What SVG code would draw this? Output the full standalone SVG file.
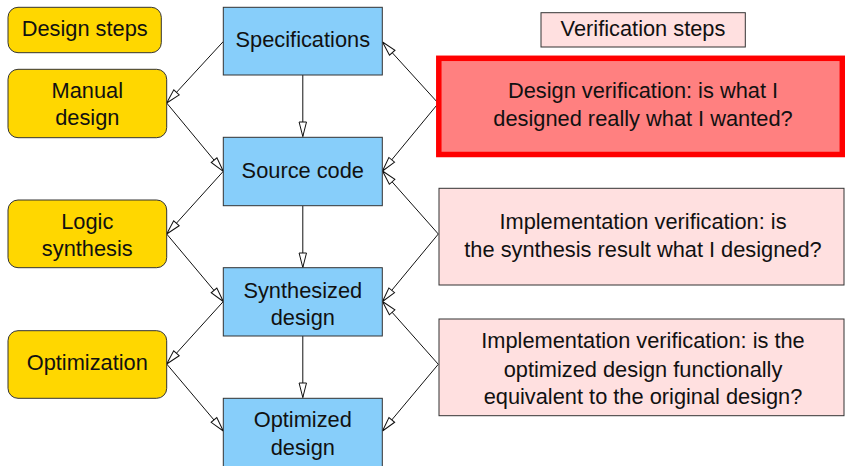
<svg xmlns="http://www.w3.org/2000/svg" width="845" height="466" viewBox="0 0 845 466">
<style>
  .t { font-family: "Liberation Sans", Arial, sans-serif; font-size: 21.8px; fill: #111; text-anchor: middle; }
  .yel { fill: #FFD700; stroke: #333; stroke-width: 1; }
  .blue { fill: #87CEFA; stroke: #333; stroke-width: 1; }
  .pink { fill: #FFE0E0; stroke: #333; stroke-width: 1; }
  .red { fill: #FF8080; stroke: #FF0000; stroke-width: 5.5; }
  .c { stroke: #111; stroke-width: 1; fill: none; marker-end: url(#oa); }
</style>
<defs>
  <marker id="oa" markerUnits="userSpaceOnUse" markerWidth="16" markerHeight="10" refX="14.5" refY="4" orient="auto" overflow="visible">
    <path d="M0,0.3 L14.5,4 L0,7.7 Z" fill="#fff" stroke="#111" stroke-width="1"/>
  </marker>
</defs>
<rect width="845" height="466" fill="#fff"/>
<g id="connectors">
  <line class="c" x1="223.3" y1="41.5" x2="166.7" y2="103"/>
  <line class="c" x1="166.7" y1="103" x2="223.3" y2="171.3"/>
  <line class="c" x1="223.3" y1="171.3" x2="166.7" y2="234"/>
  <line class="c" x1="166.7" y1="234" x2="223.3" y2="301.5"/>
  <line class="c" x1="223.3" y1="301.5" x2="166.7" y2="364"/>
  <line class="c" x1="166.7" y1="364" x2="223.3" y2="431"/>
  <line class="c" x1="302.8" y1="75" x2="302.8" y2="136.5"/>
  <line class="c" x1="302.8" y1="206" x2="302.8" y2="267.5"/>
  <line class="c" x1="302.8" y1="336" x2="302.8" y2="397.5"/>
  <line class="c" x1="438.3" y1="103.3" x2="382.5" y2="42"/>
  <line class="c" x1="438.3" y1="103.3" x2="382.5" y2="171"/>
  <line class="c" x1="438.3" y1="234" x2="382.5" y2="171"/>
  <line class="c" x1="438.3" y1="234" x2="382.5" y2="301.5"/>
  <line class="c" x1="438.3" y1="364.3" x2="382.5" y2="301.5"/>
  <line class="c" x1="438.3" y1="364.3" x2="382.5" y2="431"/>
</g>
<g id="design-steps">
  <rect class="yel" x="8" y="7.3" width="153.3" height="45.4" rx="10"/>
  <text class="t" x="84.7" y="35.7">Design steps</text>
</g>
<g id="manual-design">
  <rect class="yel" x="8" y="69.3" width="158.7" height="68.4" rx="10"/>
  <text class="t" x="87.3" y="97.7">Manual</text>
  <text class="t" x="87.3" y="125">design</text>
</g>
<g id="logic-synthesis">
  <rect class="yel" x="8" y="200" width="158.7" height="67.7" rx="10"/>
  <text class="t" x="87.3" y="229.3">Logic</text>
  <text class="t" x="87.3" y="256">synthesis</text>
</g>
<g id="optimization">
  <rect class="yel" x="8" y="330.7" width="158.7" height="67.6" rx="10"/>
  <text class="t" x="87.3" y="370">Optimization</text>
</g>
<g id="specifications">
  <rect class="blue" x="223.3" y="7.3" width="159" height="67.7"/>
  <text class="t" x="302.8" y="47">Specifications</text>
</g>
<g id="source-code">
  <rect class="blue" x="223.3" y="137.3" width="159" height="68.4"/>
  <text class="t" x="302.8" y="178.3">Source code</text>
</g>
<g id="synthesized-design">
  <rect class="blue" x="223.3" y="267.7" width="159" height="68.3"/>
  <text class="t" x="302.8" y="297.7">Synthesized</text>
  <text class="t" x="302.8" y="325">design</text>
</g>
<g id="optimized-design">
  <rect class="blue" x="223.3" y="398.3" width="159" height="72"/>
  <text class="t" x="302.8" y="427.3">Optimized</text>
  <text class="t" x="302.8" y="455">design</text>
</g>
<g id="verification-steps">
  <rect class="pink" x="541" y="12.7" width="204.3" height="34.3"/>
  <text class="t" x="643" y="35.7">Verification steps</text>
</g>
<g id="design-verification">
  <rect class="red" x="438.8" y="58.3" width="403.5" height="96.2"/>
  <text class="t" x="643" y="98.3">Design verification: is what I</text>
  <text class="t" x="643" y="126">designed really what I wanted?</text>
</g>
<g id="implementation-verification-1">
  <rect class="pink" x="439" y="188.3" width="405" height="96.7"/>
  <text class="t" x="643" y="229.3">Implementation verification: is</text>
  <text class="t" x="643" y="256.7">the synthesis result what I designed?</text>
</g>
<g id="implementation-verification-2">
  <rect class="pink" x="439" y="319" width="405" height="96.7"/>
  <text class="t" x="643" y="348.3">Implementation verification: is the</text>
  <text class="t" x="643" y="376.7">optimized design functionally</text>
  <text class="t" x="643" y="404">equivalent to the original design?</text>
</g>
</svg>
